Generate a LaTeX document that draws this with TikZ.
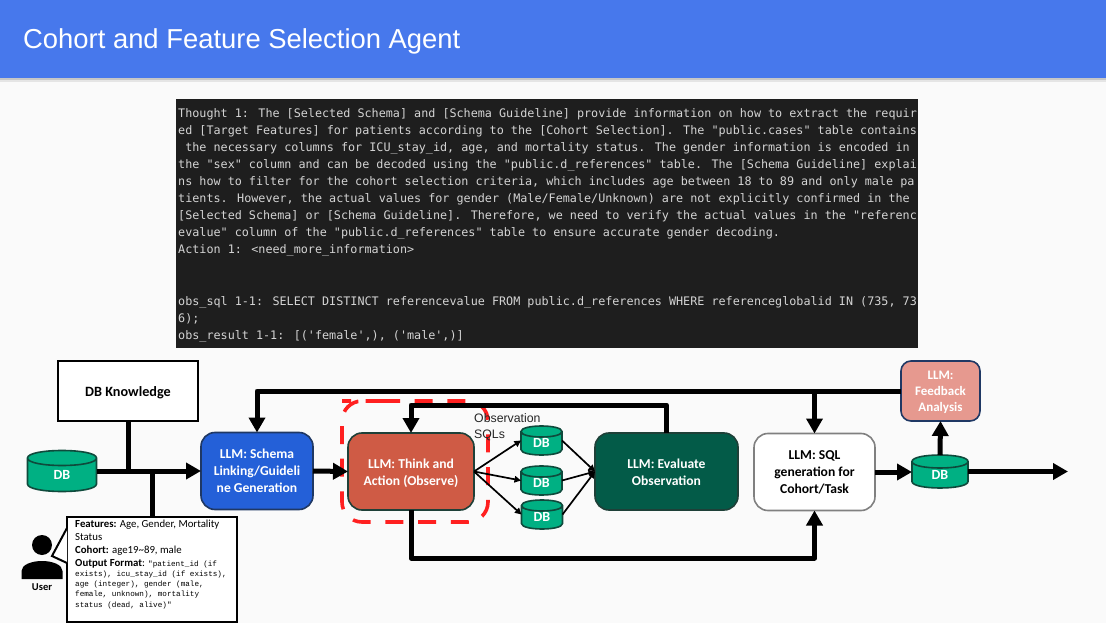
\documentclass[tikz,border=0pt]{standalone}
\usepackage{fontspec}
\setmainfont{Carlito}
\setsansfont{Liberation Sans}
\setmonofont{Liberation Mono}
\newfontfamily\consolefont{DejaVu Sans Mono}
\usetikzlibrary{arrows.meta}
\definecolor{bgc}{HTML}{FAFAFA}
\definecolor{band}{HTML}{4778EC}
\definecolor{cons}{HTML}{1E1E1E}
\definecolor{constext}{HTML}{D4D4D4}
\definecolor{dbg}{HTML}{00B083}
\definecolor{dbline}{HTML}{0F4A3C}
\definecolor{blueb}{HTML}{2460D8}
\definecolor{navy}{HTML}{1F3864}
\definecolor{redb}{HTML}{CF5B45}
\definecolor{darkg}{HTML}{035B48}
\definecolor{darkl}{HTML}{1E4038}
\definecolor{pinkb}{HTML}{E6998F}
\definecolor{redd}{HTML}{FF2020}
\tikzset{
  llm/.style={draw,line width=1.6pt,rounded corners=14pt,align=center,outer sep=0pt,inner sep=2pt,font=\fontsize{13.6}{17}\selectfont\bfseries},
  thick arrow/.style={line width=5pt,draw=black,-{Triangle[length=15pt,width=16pt]}},
  thick line/.style={line width=5pt,draw=black},
  thin arrow/.style={line width=1.7pt,draw=black,-{Triangle[length=6.5pt,width=6.5pt]}},
  dbtext/.style={inner sep=0pt,outer sep=0pt,text=white,font=\fontsize{14}{16}\selectfont\bfseries}
}
\newcommand{\dbcyl}[7]{% name, cx, cy, w, h, ry, text drop
  \begin{scope}[shift={(#2,#3)}]
    \path[fill=dbg,draw=dbline,line width=1.6pt]
      ({-#4/2},{-#5/2+#6}) -- ({-#4/2},{#5/2-#6})
      .. controls ({-#4/2},{#5/2-#6+1.333*#6}) and ({#4/2},{#5/2-#6+1.333*#6}) .. ({#4/2},{#5/2-#6})
      -- ({#4/2},{-#5/2+#6})
      .. controls ({#4/2},{-#5/2+#6-1.333*#6}) and ({-#4/2},{-#5/2+#6-1.333*#6}) .. ({-#4/2},{-#5/2+#6})
      .. controls ({-#4/2},{-#5/2+#6+1.333*#6}) and ({#4/2},{-#5/2+#6+1.333*#6}) .. ({#4/2},{-#5/2+#6});
  \end{scope}
  \node[dbtext,minimum width=#4pt,minimum height=#5pt] (#1) at (#2,#3) {\smash{\raisebox{-#7pt}{DB}}};
}
\begin{document}
\begin{tikzpicture}[x=1pt,y=-1pt]
\useasboundingbox (0,0) rectangle (1106,623);
\fill[bgc] (0,0) rectangle (1106,623);
% header
\fill[black!22] (0,78) rectangle (1106,80);
\fill[black!10] (0,80) rectangle (1106,82);
\fill[band] (0,0) rectangle (1106,78);
\node[anchor=west,inner sep=0pt,text=white,font=\sffamily\fontsize{27.4}{30}\selectfont] (title) at (23,41.5) {Cohort and Feature Selection Agent};
% console
\node[fill=cons,anchor=north west,minimum width=742pt,minimum height=249pt,inner sep=0pt,outer sep=0pt] (console) at (176,99) {};
\node[anchor=north west,inner sep=0pt,align=left,text=constext,font=\consolefont\fontsize{11.76}{17.08}\selectfont] (consoletext) at (178,108) {%
Thought 1: The {[}Selected Schema] and {[}Schema Guideline] provide information on how to extract the requir\\
ed {[}Target Features] for patients according to the {[}Cohort Selection]. The "public.cases" table contains\\
\ the necessary columns for ICU\_stay\_id, age, and mortality status. The gender information is encoded in\\
the "sex" column and can be decoded using the "public.d\_references" table. The {[}Schema Guideline] explai\\
ns how to filter for the cohort selection criteria, which includes age between 18 to 89 and only male pa\\
tients. However, the actual values for gender (Male/Female/Unknown) are not explicitly confirmed in the\\
{[}Selected Schema] or {[}Schema Guideline]. Therefore, we need to verify the actual values in the "referenc\\
evalue" column of the "public.d\_references" table to ensure accurate gender decoding.\\
Action 1: <need\_more\_information>\\
\mbox{}\\
\mbox{}\\
obs\_sql 1-1: SELECT DISTINCT referencevalue FROM public.d\_references WHERE referenceglobalid IN (735, 73\\
6);\\
obs\_result 1-1: {[}('female',), ('male',)]};
% red dashed outline
\draw[redd,line width=3.6pt,dash pattern=on 18pt off 14.7pt,rounded corners=20pt] (362,401) -- (488,401) -- (488,522) -- (342,522) -- (342,401) -- cycle;
% nodes
\node[draw=black,line width=2.4pt,fill=white,minimum width=140pt,minimum height=60pt,outer sep=0pt,font=\fontsize{14.2}{17}\selectfont\bfseries] (know) at (128,391) {\smash{\raisebox{-5pt}{DB Knowledge}}};
\dbcyl{db0}{62}{471}{69}{41}{7.5}{8.5}
\node[llm,draw=navy,fill=blueb,text=white,minimum width=112pt,minimum height=77pt] (schema) at (257,471) {LLM: Schema\\Linking/Guideli\\ne Generation};
\node[llm,draw=darkl,fill=redb,text=white,minimum width=126pt,minimum height=77pt] (think) at (411,471.5) {\rule{0pt}{13pt}LLM: Think and\\Action (Observe)};
\dbcyl{db1}{541.5}{440.5}{41}{29}{5.5}{6.5}
\dbcyl{db2}{541.5}{480.5}{41}{29}{5.5}{7}
\dbcyl{db3}{542}{514.5}{41}{29}{5.5}{7}
\node[llm,draw=darkl,fill=darkg,text=white,minimum width=143pt,minimum height=77pt] (eval) at (666.5,471.5) {\rule{0pt}{12pt}LLM: Evaluate\\Observation};
\node[llm,draw=black!50,fill=white,text=black,minimum width=121pt,minimum height=77pt] (sql) at (814.5,472) {LLM: SQL\\generation for\\Cohort/Task};
\dbcyl{db4}{940}{471.5}{56}{33}{6.5}{8}
\node[llm,draw=navy,fill=pinkb,text=white,rounded corners=10pt,minimum width=79pt,minimum height=60pt,font=\fontsize{13}{16}\selectfont\bfseries] (feed) at (940.5,391) {\rule{0pt}{12pt}LLM:\\Feedback\\Analysis};
\node[anchor=north west,inner sep=0pt,align=left,font=\sffamily\fontsize{12.3}{16.5}\selectfont,text=black!85] (obs) at (474,413) {Observation\\SQLs};
% user
\node[circle,fill=black,minimum size=20pt,inner sep=0pt,outer sep=0pt] (head) at (42,545) {};
\fill[black] (21.5,579) -- (21.5,571) .. controls (21.5,565) and (31,561) .. (42,561) .. controls (53,561) and (62.5,565) .. (62.5,571) -- (62.5,579) -- cycle;
\node[inner sep=0pt,font=\fontsize{10.5}{12}\selectfont\bfseries] (usr) at (42,587.5) {User};
\node[anchor=north west,draw=black,line width=2.2pt,fill=white,minimum width=170pt,minimum height=105pt,outer sep=0pt,inner sep=0pt] (ubox) at (67,517) {};
\coordinate (tail) at (52,556);
\draw[fill=white,line width=2pt,line join=miter] (ubox.north west |- 0,528) -- (tail) -- (ubox.west |- 0,563);
\fill[white] (68.1,529) rectangle (70,562);
\node[anchor=north west,inner sep=0pt,align=left,font=\fontsize{10.8}{13}\selectfont] (utext) at (75,519.5) {%
\textbf{Features:} Age, Gender, Mortality\\
Status\\
\textbf{Cohort:} age19\textasciitilde89, male\\
\textbf{Output Format}: {\ttfamily\fontsize{7.65}{10}\selectfont "patient\_id (if}\\[-2.8pt]
{\ttfamily\fontsize{7.65}{10}\selectfont exists), icu\_stay\_id (if exists),}\\[-2.8pt]
{\ttfamily\fontsize{7.65}{10}\selectfont age (integer), gender (male,}\\[-2.8pt]
{\ttfamily\fontsize{7.65}{10}\selectfont female, unknown), mortality}\\[-2.8pt]
{\ttfamily\fontsize{7.65}{10}\selectfont status (dead, alive)"}};
% connector way points
\coordinate (topline) at (0,391);
\coordinate (obstop) at (0,405);
\coordinate (botline) at (0,558);
% connectors
\draw[thick arrow] (db0.east |- schema.west) -- (schema.west);
\draw[thick line] (know.south) -- (know.south |- schema.west);
\draw[thick line] (ubox.north west -| 152,0) -- (152,471);
\draw[thick arrow,line join=round] (feed.west) -- (schema.north |- topline) -- (schema.north);
\draw[thick arrow] (sql.north |- topline) -- (sql.north);
\draw[thick arrow] (schema.east) -- (think.west);
\draw[thick arrow,line join=round] (eval.north) -- (eval.north |- obstop) -- (think.north |- obstop) -- (think.north);
\draw[thick arrow,line join=round] (think.south) -- (think.south |- botline) -- (sql.south |- botline) -- (sql.south);
\draw[thick arrow] (sql.east) -- (db4.west |- sql.east);
\draw[thick arrow] (db4.north) -- (feed.south);
\draw[thick arrow] (db4.east) -- (1068,471.5) coordinate (out);
\draw[thin arrow] (think.east) -- (db1.west);
\draw[thin arrow] (think.east) -- (db2.west);
\draw[thin arrow] (think.east) -- (db3.west);
\draw[thin arrow] (db1.east) -- (eval.west);
\draw[thin arrow] (db2.east) -- (eval.west);
\draw[thin arrow] (db3.east) -- (eval.west);
\end{tikzpicture}
\end{document}
